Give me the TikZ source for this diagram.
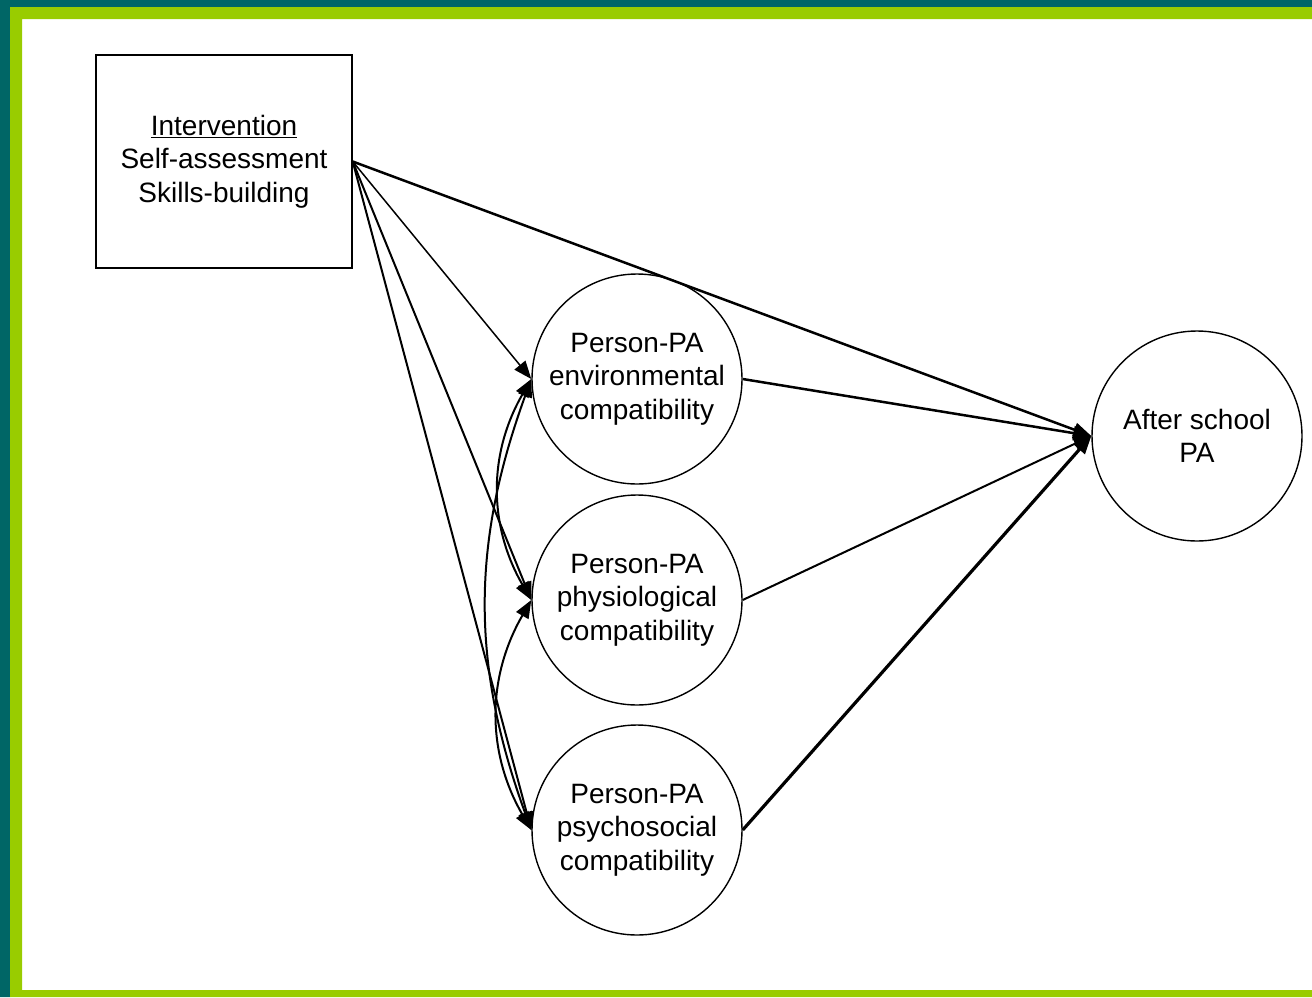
\documentclass[tikz,border=0pt]{standalone}
\usepackage{fontspec}
\setmainfont{Liberation Sans}
\usetikzlibrary{arrows,arrows.meta,shapes,positioning}
\definecolor{frameteal}{RGB}{0,102,102}
\definecolor{framegreen}{RGB}{153,204,0}
\tikzstyle{factor} = [circle, draw, line width=1.4pt, minimum size=210pt,
    inner sep=0pt, align=center, font=\fontsize{28pt}{33.5pt}\selectfont]
\tikzstyle{treat} = [rectangle, draw, line width=1.4pt, minimum width=256pt,
    minimum height=213pt, align=center, font=\fontsize{28pt}{33.5pt}\selectfont]

\begin{document}
\begin{tikzpicture}[x=1pt,y=-1pt,->,>={Triangle[length=18pt,width=14pt]},
                    node distance=221pt]
  % frame
  \fill[frameteal] (0,0) rectangle (1312,7) (0,0) rectangle (10,997);
  \fill[framegreen] (10,7) rectangle (1312,19) (10,7) rectangle (22,997)
                    (10,990) rectangle (1312,997);
  \useasboundingbox (0,0) rectangle (1312,997);

  \node[treat]  (int)  at (224,161.5) {\underline{Intervention}\\Self-assessment\\Skills-building};
  \node[factor] (env)  at (637,379) {Person-PA\\environmental\\compatibility};
  \node[factor] (phys) [on grid,below=of env] {Person-PA\\physiological\\compatibility};
  \node[factor] (psy)  [on grid,below=230pt of phys] {Person-PA\\psychosocial\\compatibility};
  \node[factor] (pa)   at (1197,436) {After school\\PA};

  \path (int.east)  edge [line width=2.5pt] (pa.west)
        (int.east)  edge [line width=1.5pt] (env.west)
        (int.east)  edge [line width=2pt] (phys.west)
        (int.east)  edge [line width=2pt] (psy.west)
        (env.east)  edge [line width=2.5pt] (pa.west)
        (phys.east) edge [line width=2pt] (pa.west)
        (psy.east)  edge [line width=3.2pt] (pa.west);

  % covariances
  \path[<->,line width=2pt]
        (env.west)  edge [bend right=30] (phys.west)
        (phys.west) edge [bend right=30] (psy.west)
        (env.west)  edge [bend right=20] (psy.west);
\end{tikzpicture}
\end{document}
